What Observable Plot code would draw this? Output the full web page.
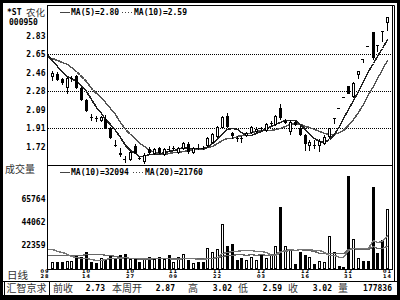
<!DOCTYPE html>
<html><head><meta charset="utf-8">
<script src="https://cdn.jsdelivr.net/npm/d3@7"></script>
<script src="https://cdn.jsdelivr.net/npm/@observablehq/plot@0.6"></script>
<style>
html,body{margin:0;padding:0;background:#fff;}
#chart{position:relative;width:400px;height:300px;overflow:hidden;background:#fff;}
#chart svg{position:absolute;left:0;top:0;}
</style></head><body><div id="chart"></div>
<script>
// ---- data ----
const stockTag = "*ST";
const stockName = "农化";
const stockCode = "000950";

const opens = [2.42,2.45,2.40,2.31,2.40,2.43,2.31,2.19,2.02,2.01,
  1.98,2.00,1.91,1.74,1.66,1.60,1.59,1.73,1.61,1.57,
  1.70,1.65,1.71,1.64,1.70,1.70,1.66,1.70,1.75,1.66,
  1.71,1.71,1.73,1.76,1.82,1.91,2.03,1.86,1.81,1.81,
  1.83,1.86,1.87,1.91,1.88,1.95,1.94,2.11,1.96,1.87,
  1.97,1.91,1.84,1.73,1.74,1.73,1.75,1.82,2.00,2.11,
  2.22,2.33,2.22,2.44,2.60,2.73,2.87,2.74,2.88,2.96];
const highs = [2.48,2.47,2.41,2.42,2.43,2.44,2.32,2.20,2.05,2.03,
  2.03,2.04,1.92,1.79,1.71,1.63,1.68,1.75,1.62,1.66,
  1.72,1.71,1.72,1.71,1.73,1.73,1.72,1.77,1.77,1.72,
  1.75,1.73,1.82,1.86,1.93,2.03,2.06,1.87,1.83,1.83,
  1.87,1.93,1.92,1.92,1.96,1.98,2.04,2.15,2.00,1.99,
  1.98,1.93,1.85,1.79,1.79,1.80,1.84,1.91,2.01,2.11,
  2.22,2.33,2.37,2.48,2.60,2.73,2.87,2.74,2.88,3.02];
const lows = [2.38,2.38,2.34,2.25,2.37,2.30,2.18,2.07,1.98,1.97,
  1.97,1.90,1.80,1.72,1.62,1.56,1.58,1.65,1.59,1.55,
  1.64,1.64,1.65,1.63,1.67,1.68,1.65,1.69,1.65,1.65,
  1.69,1.69,1.72,1.75,1.81,1.90,1.91,1.80,1.77,1.76,
  1.82,1.85,1.86,1.88,1.87,1.93,1.93,1.99,1.95,1.84,
  1.93,1.83,1.68,1.68,1.70,1.67,1.74,1.81,1.95,2.11,
  2.22,2.25,2.21,2.40,2.56,2.73,2.59,2.67,2.77,2.88];
const closes = [2.46,2.39,2.36,2.41,2.41,2.31,2.19,2.08,2.01,2.00,
  2.02,1.91,1.81,1.73,1.64,1.60,1.67,1.66,1.60,1.64,
  1.66,1.70,1.66,1.70,1.70,1.71,1.71,1.76,1.67,1.71,
  1.71,1.71,1.81,1.85,1.92,2.02,1.92,1.83,1.80,1.80,
  1.86,1.92,1.90,1.91,1.95,1.96,2.03,2.01,1.98,1.97,
  1.94,1.84,1.75,1.77,1.74,1.78,1.82,1.91,2.01,2.11,
  2.22,2.25,2.36,2.48,2.60,2.73,2.61,2.74,2.88,3.02];
const volumes = [6900,6300,6300,7500,7900,12000,11000,15700,6300,5700,
  10100,9400,13500,10400,13500,14100,9400,9400,6300,10100,
  11000,9400,11000,9400,13200,6300,11000,14100,8800,5700,
  6900,6300,19500,16300,18900,42500,21400,23600,8800,10400,
  8800,11000,8500,13500,10100,13500,22000,58200,21400,18900,
  4700,16300,13200,11000,4700,7900,6900,30800,15700,2500,
  1600,88000,28300,10100,7900,7900,77800,15500,27800,56736];
// sessions just before the window (feed the moving averages at the left edge)
const prevCloses = [2.58,2.58,2.60,2.62,2.64,2.72,2.70,2.63,2.62,2.53];
const prevVolumes = [7000,7500,8000,7200,6800,7600,8200,7400,7000,7800,
  8000,21000,24000,26000,22000,21000,22000,16000,15000,14500];

const priceTicks = [2.83,2.65,2.46,2.28,2.09,1.91,1.72];
const priceGrid = [2.65,2.28,1.91];
const volumeTicks = [65764,44062,22359];
const dateTickIndex = [0,7,16,25,34,43,52,61,69];
const dateTickMonth = ["09","10","10","11","11","12","12","12","01"];
const dateTickDay = ["28","14","27","09","22","03","16","31","14"];

const priceMAPeriods = [5,10];
const priceMALast = ["2.80","2.59"];
const volMAPeriods = [10,20];
const volMALast = ["32094","21760"];

const volumeTitle = "成交量";
const periodTitle = "日线";
const statusTag = "汇智京求";
const statusLabels = ["前收","本周开","高","低","收","量"];
const statusValues = ["2.73","2.87","3.02","2.59","3.02","177836"];

// ---- build ----
const N = closes.length;
const candles = closes.map((c,i)=>({i,o:opens[i],h:highs[i],l:lows[i],c,v:volumes[i],up:c>opens[i]}));
function movingAvg(all, offset, n){
  const out=[];
  for(let i=-1;i<N;i++){const k=i+offset; if(k-n+1<0) continue; out.push({i, v:d3.mean(all.slice(k-n+1,k+1))});}
  return out;
}
const allC = prevCloses.concat(closes), allV = prevVolumes.concat(volumes);
const ma5 = movingAvg(allC, prevCloses.length, priceMAPeriods[0]);
const ma10 = movingAvg(allC, prevCloses.length, priceMAPeriods[1]);
const vma10 = movingAvg(allV, prevVolumes.length, volMAPeriods[0]);
const vma20 = movingAvg(allV, prevVolumes.length, volMAPeriods[1]);
const dateTicks = dateTickIndex.map((i,k)=>({i,m:dateTickMonth[k],d:dateTickDay[k],first:k===0}));

const mono = "DejaVu Sans Mono";
const cjk = "Noto Sans CJK SC";
const xDomain = [-0.82, 70];
const crisp = "crispEdges";
const common = {width:400,height:300,marginLeft:48,marginRight:8,
  style:{background:"transparent",fontFamily:mono,fontSize:"8px",fontWeight:"bold",color:"#000"}};

const pricePlot = Plot.plot({...common, marginTop:5, marginBottom:135,
  x:{domain:xDomain, axis:null, round:true},
  y:{domain:[1.54,3.14], axis:null, round:true},
  marks:[
    Plot.ruleY(priceGrid,{stroke:"#000",strokeDasharray:"1,1",shapeRendering:crisp}),
    Plot.axisY({ticks:priceTicks, tickFormat:d=>d.toFixed(2), tickSize:0, tickPadding:3, fontSize:8, fontFamily:mono, fontWeight:"bold", fill:"#000", label:null}),
    Plot.line(ma10,{x:"i",y:"v",stroke:"#555",strokeDasharray:"1,1",clip:true,shapeRendering:crisp}),
    Plot.line(ma5,{x:"i",y:"v",stroke:"#222",clip:true,shapeRendering:crisp}),
    Plot.ruleX(candles,{x:"i",y1:"l",y2:"h",stroke:"#000",shapeRendering:crisp}),
    Plot.ruleX(candles.filter(d=>d.o!==d.c),{x:"i",y1:"o",y2:"c",stroke:"#000",strokeWidth:3,shapeRendering:crisp}),
    Plot.ruleX(candles.filter(d=>d.up && d.c-d.o>0.025),{x:"i",y1:d=>d.o+0.01,y2:d=>d.c-0.01,stroke:"#fff",shapeRendering:crisp}),
    Plot.ruleY(candles.filter(d=>d.o===d.c),{y:"c",x1:d=>d.i-0.31,x2:d=>d.i+0.31,stroke:"#000",shapeRendering:crisp})
  ]});

const dateStyle = {fontSize:5,fontFamily:"DejaVu Sans",fontWeight:"bold",fill:"#000",frameAnchor:"bottom"};
const volPlot = Plot.plot({...common, marginTop:167, marginBottom:31,
  x:{domain:xDomain, axis:null, round:true},
  y:{domain:[0,96200], axis:null, round:true},
  marks:[
    Plot.axisY({ticks:volumeTicks, tickFormat:d=>String(d), tickSize:0, tickPadding:3, fontSize:8, fontFamily:mono, fontWeight:"bold", fill:"#000", label:null}),
    Plot.ruleX(candles,{x:"i",y1:0,y2:"v",stroke:"#000",strokeWidth:3,shapeRendering:crisp}),
    Plot.ruleX(candles.filter(d=>d.up && d.v>2800),{x:"i",y1:943,y2:d=>d.v-943,stroke:"#fff",shapeRendering:crisp}),
    Plot.line(vma20,{x:"i",y:"v",stroke:"#666",strokeDasharray:"1,1",clip:true,shapeRendering:crisp}),
    Plot.line(vma10,{x:"i",y:"v",stroke:"#777",clip:true,shapeRendering:crisp}),
    Plot.text(dateTicks.filter(d=>!d.first),{...dateStyle,x:"i",text:"m",dy:3.5}),
    Plot.text(dateTicks.filter(d=>!d.first),{...dateStyle,x:"i",text:"d",dy:8.5}),
    Plot.text(dateTicks.filter(d=>d.first),{...dateStyle,x:"i",text:"m",dy:3.5,dx:-3,textAnchor:"end"}),
    Plot.text(dateTicks.filter(d=>d.first),{...dateStyle,x:"i",text:"d",dy:8.5,dx:-3,textAnchor:"end"})
  ]});
d3.select(volPlot).selectAll('g[aria-label="text"] text').attr("letter-spacing","1");

const host = document.getElementById("chart");
host.appendChild(pricePlot);
host.appendChild(volPlot);

// ---- frame and static texts ----
const svg = d3.select(host).append("svg").attr("width",400).attr("height",300);
const line = (x1,y1,x2,y2,o={})=>svg.append("line").attr("x1",x1).attr("y1",y1).attr("x2",x2).attr("y2",y2)
  .attr("stroke",o.stroke||"#000").attr("stroke-width",o.w||1).attr("stroke-dasharray",o.dash||null);
const text = (x,y,s,o={})=>svg.append("text").attr("x",x).attr("y",y).text(s)
  .attr("font-family",o.cjk?cjk:mono).attr("font-size",o.size||8).attr("font-weight",o.cjk?"normal":"bold")
  .attr("fill",o.fill||"#000").attr("text-anchor",o.anchor||"start");

// outer black border (thicker at the bottom)
svg.append("rect").attr("x",0).attr("y",0).attr("width",400).attr("height",3).attr("fill","#000");
svg.append("rect").attr("x",0).attr("y",0).attr("width",3).attr("height",300).attr("fill","#000");
svg.append("rect").attr("x",397).attr("y",0).attr("width",3).attr("height",300).attr("fill","#000");
svg.append("rect").attr("x",0).attr("y",295).attr("width",400).attr("height",5).attr("fill","#000");
// plot frame
svg.append("rect").attr("x",47.5).attr("y",5.5).attr("width",345).attr("height",264).attr("fill","none").attr("stroke","#000");
line(47.5,5.5,394.5,5.5);
line(394.5,5.5,394.5,281.5);
line(47.5,165.5,392.5,165.5);
line(3,281.5,397,281.5);
svg.append("rect").attr("x",4.5).attr("y",281.5).attr("width",45).attr("height",14).attr("fill","none").attr("stroke","#000");

// top-left stock identity
text(7,14.5,stockTag);
text(26,15.5,stockName,{cjk:true,size:9.5,fill:"#333"});
text(9,25,stockCode);

// MA legends
function legend(y, periods, values, labelW){
  line(60,y-2.5,70,y-2.5,{stroke:"#444"});
  text(71,y,`MA(${periods[0]})=${values[0]}`);
  const x2 = 71 + labelW + 2;
  line(x2,y-2.5,x2+10,y-2.5,{stroke:"#444",dash:"1,2"});
  text(x2+12,y,`MA(${periods[1]})=${values[1]}`);
}
legend(15, priceMAPeriods, priceMALast, 49);
legend(175, volMAPeriods, volMALast, 60);

text(5,172.5,volumeTitle,{cjk:true,size:10,fill:"#333"});
text(7,278.5,periodTitle,{cjk:true,size:10.5,fill:"#333"});

// status bar
text(6.5,292,statusTag,{cjk:true,size:10,fill:"#333"});
const labelX = [53,112,188,238,288,338];
const valueEnd = [105,175,232,282,332,392];
statusLabels.forEach((s,k)=>{
  text(labelX[k],292,s,{cjk:true,size:10,fill:"#333"});
  text(valueEnd[k],290.5,statusValues[k],{anchor:"end"});
});
</script></body></html>
